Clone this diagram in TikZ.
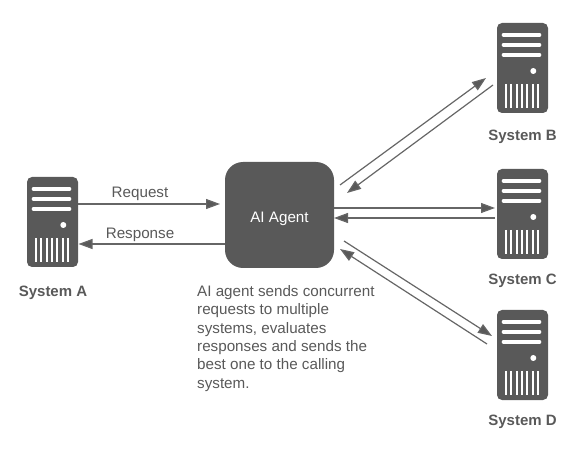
\documentclass[tikz,border=0pt]{standalone}
\usepackage{fontspec}
\setmainfont{Liberation Sans}
\usepackage{xcolor}
\usetikzlibrary{arrows.meta}
\definecolor{towergray}{HTML}{595959}
\definecolor{linegray}{HTML}{666666}

\tikzset{
    tower/.style={fill=towergray, rounded corners=5pt, minimum width=51pt, minimum height=90pt, inner sep=0pt, outer sep=0pt},
    syslabel/.style={font=\fontsize{15pt}{18.4pt}\selectfont\bfseries, text=towergray},
    link/.style={draw=linegray, line width=1.2pt, -{Triangle[length=14pt,width=10pt,fill=towergray]}},
    pics/towerparts/.style={code={
        \foreach \y in {-33,-23,-13} {
            \draw[white, line width=3.6pt, line cap=round] (-19,\y) -- (17,\y);
        }
        \fill[white] (10.8,3) circle (3);
        \foreach \x in {-16.5,-11.2,...,15.5} {
            \draw[white, line width=2pt] (\x,16) -- (\x,40);
        }
    }}
}

\begin{document}
\begin{tikzpicture}[x=1pt, y=-1pt, font=\fontsize{15.2pt}{18.4pt}\selectfont]
    \useasboundingbox (0,0) rectangle (587,449);

    \node[tower] (sysA) at (52.5,222) {};
    \node[tower] (sysB) at (522.5,68) {};
    \node[tower] (sysC) at (522.5,214) {};
    \node[tower] (sysD) at (522.5,355) {};
    \foreach \n in {sysA,sysB,sysC,sysD} {
        \pic at (\n) {towerparts};
    }

    \node[syslabel] (labA) at (53,293) {System A};
    \node[syslabel] (labB) at (522.5,137) {System B};
    \node[syslabel] (labC) at (522.5,281) {System C};
    \node[syslabel] (labD) at (522.5,422) {System D};

    \node[fill=towergray, rounded corners=18pt, minimum width=109pt, minimum height=106pt, inner sep=0pt, outer sep=0pt] (agent) at (279.5,215) {};
    \node[text=white] (agentlab) at (279.5,219) {AI Agent};

    \draw[link] ([yshift=18pt]sysA.east) -- ([xshift=-5pt,yshift=11pt]agent.west);
    \draw[link] ([yshift=-29pt]agent.west) -- ([xshift=0.5pt,yshift=-22pt]sysA.east);
    \node[text=towergray] (req) at (140,194) {Request};
    \node[text=towergray] (resp) at (140,235) {Response};

    \draw[link] ([xshift=6pt,yshift=30pt]agent.east) -- ([xshift=-11pt,yshift=-10pt]sysB.west);
    \draw[link] ([xshift=-4pt,yshift=-17pt]sysB.west) -- ([xshift=13pt,yshift=22pt]agent.east);

    \draw[link] ([yshift=7pt]agent.east) -- ([xshift=-2pt,yshift=6pt]sysC.west);
    \draw[link] ([xshift=-2pt,yshift=-4pt]sysC.west) -- ([yshift=-3pt]agent.east);

    \draw[link] ([xshift=10pt,yshift=-26pt]agent.east) -- ([xshift=-5pt,yshift=19pt]sysD.west);
    \draw[link] ([xshift=-10pt,yshift=11pt]sysD.west) -- ([xshift=6pt,yshift=-34pt]agent.east);

    \node[anchor=north west, align=left, inner sep=0pt, text=towergray] (note) at (197,285)
    {AI agent sends concurrent\\requests to multiple\\systems, evaluates\\responses and sends the\\best one to the calling\\system.};
\end{tikzpicture}
\end{document}
